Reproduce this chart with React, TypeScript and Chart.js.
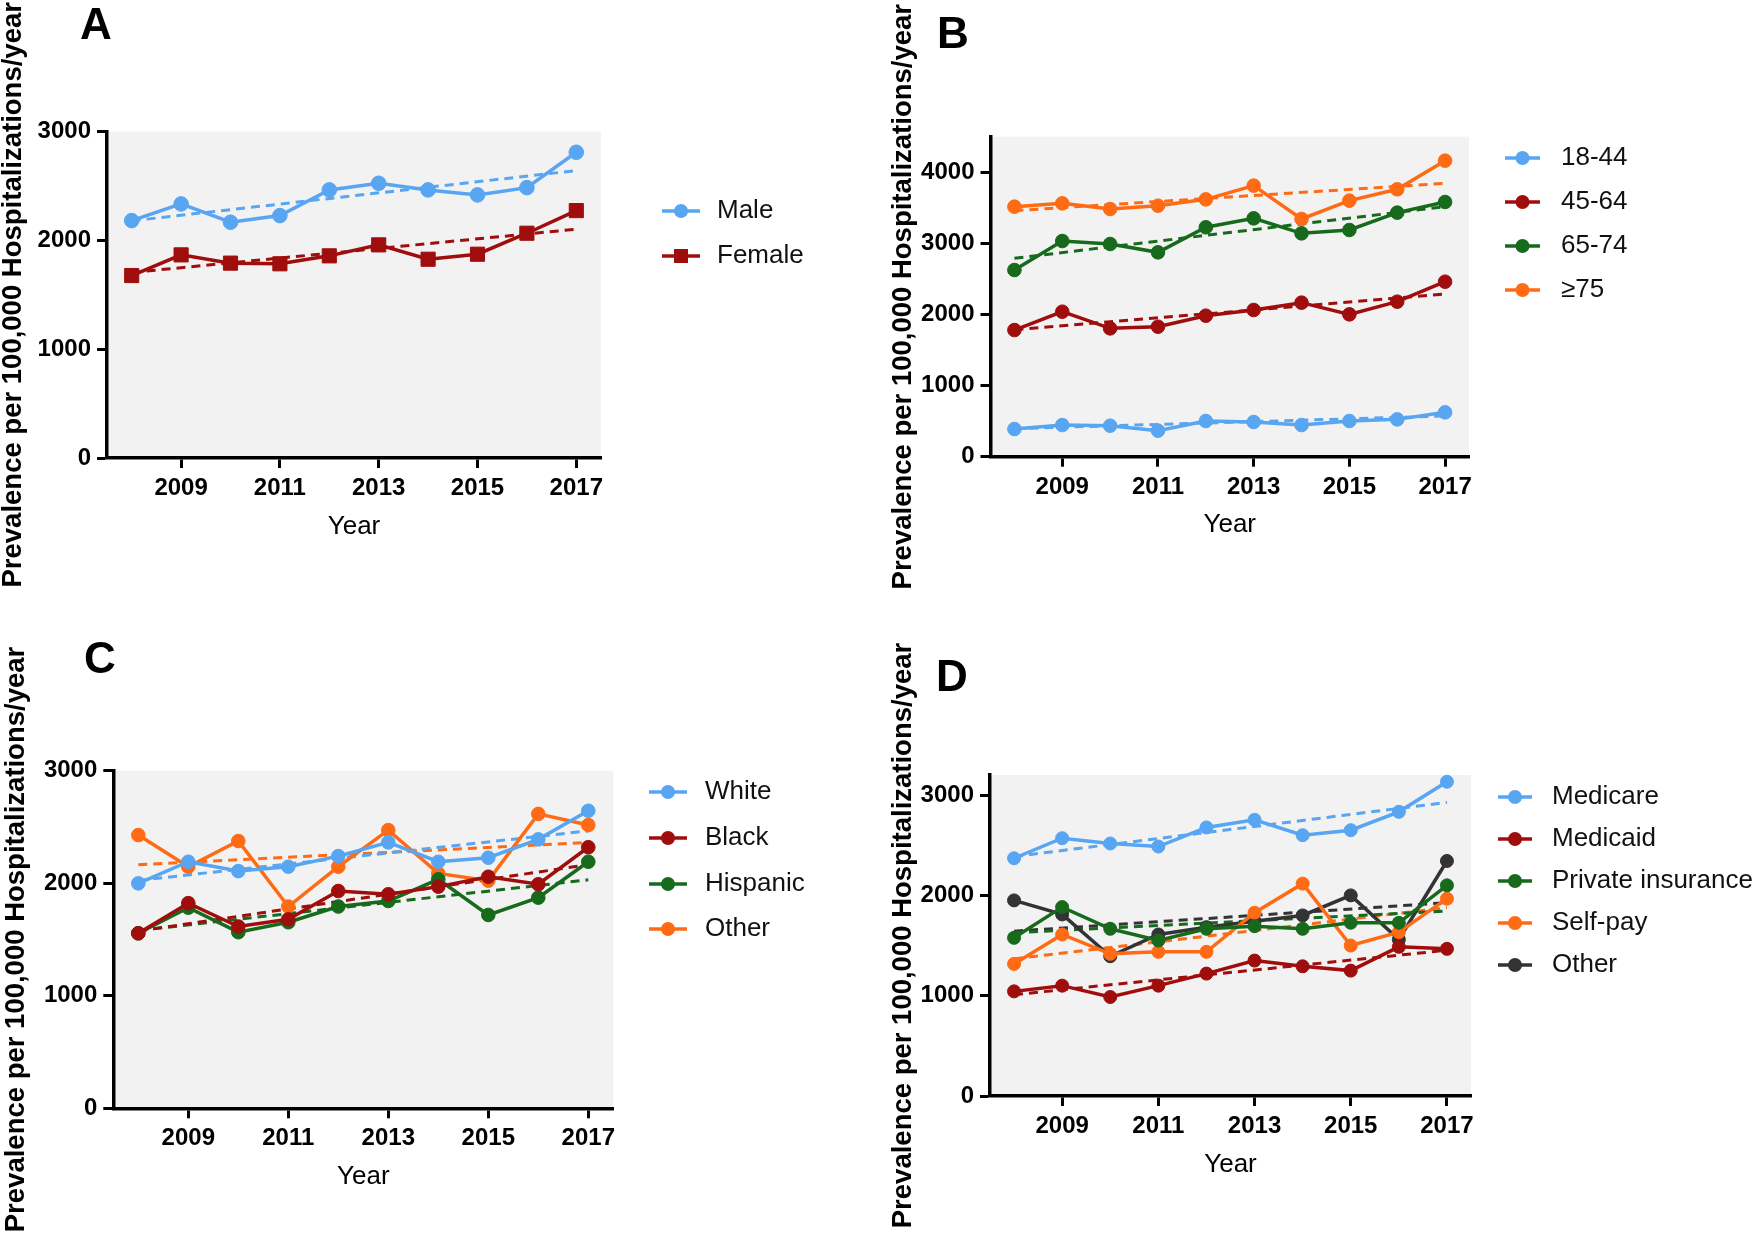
import React, { useEffect, useRef } from 'react';
import { Chart, registerables } from 'chart.js';

Chart.register(...registerables);

const FONT = "'Liberation Sans', Arial, Helvetica, sans-serif";

// ---------- shared axis data ----------
const YEARS = [2008, 2009, 2010, 2011, 2012, 2013, 2014, 2015, 2016, 2017];
const X_TICKS = [2009, 2011, 2013, 2015, 2017];
const X_MIN = 2007.5;
const X_MAX = 2017.5;
const Y_TITLE = 'Prevalence per 100,000 Hospitalizations/year';
const X_TITLE = 'Year';

// ---------- colours ----------
const BLUE = '#58A5F2';
const RED = '#A00D0D';
const GREEN = '#176A1B';
const ORANGE = '#FF6B15';
const GREY = '#333333';

// ---------- Panel A : sex ----------
const A_LETTER = 'A';
const A_Y_MAX = 3000;
const A_Y_TICKS = [0, 1000, 2000, 3000];
const A_LABELS = ['Male', 'Female'];
const A_MALE = [2182, 2335, 2167, 2228, 2464, 2525, 2464, 2418, 2485, 2810];
const A_FEMALE = [1677, 1867, 1791, 1785, 1858, 1959, 1827, 1873, 2066, 2274];
const A_MALE_TREND = [2180, 2642];
const A_FEMALE_TREND = [1705, 2103];

// ---------- Panel B : age ----------
const B_LETTER = 'B';
const B_Y_MAX = 4500;
const B_Y_TICKS = [0, 1000, 2000, 3000, 4000];
const B_LABELS = ['18-44', '45-64', '65-74', '\u226575'];
const B_18_44 = [389, 445, 436, 366, 502, 488, 445, 502, 525, 624];
const B_45_64 = [1781, 2039, 1805, 1828, 1983, 2063, 2166, 2002, 2180, 2461];
const B_65_74 = [2625, 3033, 2991, 2874, 3226, 3352, 3141, 3188, 3432, 3582];
const B_75_UP = [3516, 3563, 3483, 3530, 3619, 3812, 3343, 3601, 3760, 4163];
const B_18_44_TREND = [395, 572];
const B_45_64_TREND = [1785, 2288];
const B_65_74_TREND = [2790, 3516];
const B_75_UP_TREND = [3460, 3844];

// ---------- Panel C : race ----------
const C_LETTER = 'C';
const C_Y_MAX = 3000;
const C_Y_TICKS = [0, 1000, 2000, 3000];
const C_LABELS = ['White', 'Black', 'Hispanic', 'Other'];
const C_WHITE = [1999, 2191, 2108, 2147, 2241, 2363, 2191, 2227, 2390, 2644];
const C_BLACK = [1555, 1823, 1615, 1679, 1931, 1902, 1970, 2058, 1991, 2320];
const C_HISPANIC = [1555, 1783, 1565, 1653, 1793, 1842, 2035, 1718, 1872, 2191];
const C_OTHER = [2428, 2147, 2375, 1793, 2147, 2472, 2087, 2023, 2616, 2517];
const C_WHITE_TREND = [2025, 2465];
const C_BLACK_TREND = [1575, 2165];
const C_HISPANIC_TREND = [1580, 2030];
const C_OTHER_TREND = [2165, 2362];

// ---------- Panel D : payer ----------
const D_LETTER = 'D';
const D_Y_MAX = 3200;
const D_Y_TICKS = [0, 1000, 2000, 3000];
const D_LABELS = ['Medicare', 'Medicaid', 'Private insurance', 'Self-pay', 'Other'];
const D_MEDICARE = [2370, 2570, 2517, 2487, 2677, 2753, 2600, 2650, 2833, 3133];
const D_MEDICAID = [1043, 1100, 987, 1100, 1220, 1350, 1293, 1250, 1487, 1467];
const D_PRIVATE = [1577, 1883, 1667, 1550, 1667, 1693, 1667, 1727, 1727, 2100];
const D_SELFPAY = [1317, 1610, 1417, 1437, 1437, 1827, 2117, 1500, 1633, 1967];
const D_OTHER = [1950, 1810, 1393, 1610, 1683, 1743, 1800, 2000, 1560, 2343];
const D_MEDICARE_TREND = [2387, 2927];
const D_MEDICAID_TREND = [1010, 1453];
const D_PRIVATE_TREND = [1627, 1843];
const D_SELFPAY_TREND = [1367, 1877];
const D_OTHER_TREND = [1643, 1927];

type Series = {
  label: string;
  color: string;
  values: number[];
  trend: number[];
  style: 'circle' | 'rect';
  radius: number;
};

type PanelCfg = {
  letter: string;
  pageLeft: number;
  pageTop: number;
  width: number;
  height: number;
  padLeft: number;
  area: { left: number; right: number; top: number; bottom: number };
  yMax: number;
  yTicks: number[];
  series: Series[];
  letterPos: { x: number; y: number };
  legend: { x0: number; x1: number; tx: number; rows: number[] };
};

const X_AXIS_H = 84;

const mk = (label: string, color: string, values: number[], trend: number[], style: 'circle' | 'rect' = 'circle', radius = 6.8): Series => ({
  label, color, values, trend, style, radius,
});

const PANELS: PanelCfg[] = [
  {
    letter: A_LETTER, pageLeft: 0, pageTop: 0, width: 880, height: 620, padLeft: 0,
    area: { left: 107, right: 601, top: 131.6, bottom: 458 },
    yMax: A_Y_MAX, yTicks: A_Y_TICKS,
    series: [
      mk(A_LABELS[0], BLUE, A_MALE, A_MALE_TREND, 'circle', 7.3),
      mk(A_LABELS[1], RED, A_FEMALE, A_FEMALE_TREND, 'rect', 10),
    ],
    letterPos: { x: 80, y: 39 },
    legend: { x0: 662, x1: 700, tx: 717, rows: [211, 256] },
  },
  {
    letter: B_LETTER, pageLeft: 880, pageTop: 0, width: 880, height: 620, padLeft: 10,
    area: { left: 110.5, right: 589, top: 136.7, bottom: 456.7 },
    yMax: B_Y_MAX, yTicks: B_Y_TICKS,
    series: [
      mk(B_LABELS[0], BLUE, B_18_44, B_18_44_TREND),
      mk(B_LABELS[1], RED, B_45_64, B_45_64_TREND),
      mk(B_LABELS[2], GREEN, B_65_74, B_65_74_TREND),
      mk(B_LABELS[3], ORANGE, B_75_UP, B_75_UP_TREND),
    ],
    letterPos: { x: 57, y: 48 },
    legend: { x0: 625, x1: 660, tx: 681, rows: [158, 202, 246, 290] },
  },
  {
    letter: C_LETTER, pageLeft: 0, pageTop: 620, width: 880, height: 620, padLeft: 3,
    area: { left: 113.3, right: 613.3, top: 150.7, bottom: 488.3 },
    yMax: C_Y_MAX, yTicks: C_Y_TICKS,
    series: [
      mk(C_LABELS[0], BLUE, C_WHITE, C_WHITE_TREND),
      mk(C_LABELS[1], RED, C_BLACK, C_BLACK_TREND),
      mk(C_LABELS[2], GREEN, C_HISPANIC, C_HISPANIC_TREND),
      mk(C_LABELS[3], ORANGE, C_OTHER, C_OTHER_TREND),
    ],
    letterPos: { x: 84, y: 53 },
    legend: { x0: 649, x1: 687, tx: 705, rows: [172, 218, 264, 309] },
  },
  {
    letter: D_LETTER, pageLeft: 880, pageTop: 620, width: 880, height: 620, padLeft: 10,
    area: { left: 110, right: 591, top: 155, bottom: 476 },
    yMax: D_Y_MAX, yTicks: D_Y_TICKS,
    series: [
      mk(D_LABELS[0], BLUE, D_MEDICARE, D_MEDICARE_TREND, 'circle', 6.5),
      mk(D_LABELS[1], RED, D_MEDICAID, D_MEDICAID_TREND, 'circle', 6.5),
      mk(D_LABELS[2], GREEN, D_PRIVATE, D_PRIVATE_TREND, 'circle', 6.5),
      mk(D_LABELS[3], ORANGE, D_SELFPAY, D_SELFPAY_TREND, 'circle', 6.5),
      mk(D_LABELS[4], GREY, D_OTHER, D_OTHER_TREND, 'circle', 6.5),
    ],
    letterPos: { x: 56, y: 71 },
    legend: { x0: 618, x1: 652, tx: 672, rows: [177, 219, 261, 303, 345] },
  },
];

function Panel({ cfg }: { cfg: PanelCfg }) {
  const ref = useRef<HTMLCanvasElement | null>(null);

  useEffect(() => {
    const canvas = ref.current;
    if (!canvas) return;
    const { area } = cfg;

    const dataLines = cfg.series.map((s) => ({
      label: s.label,
      data: YEARS.map((yr, i) => ({ x: yr, y: s.values[i] })),
      borderColor: s.color,
      backgroundColor: s.color,
      borderWidth: 3.5,
      pointStyle: s.style,
      pointRadius: s.radius,
      pointBorderWidth: 1,
      pointBorderColor: s.color,
      pointBackgroundColor: s.color,
      tension: 0,
      order: 0,
      clip: false as any,
    }));
    const trendLines = cfg.series.map((s) => ({
      label: s.label + ' trend',
      data: [
        { x: YEARS[0], y: s.trend[0] },
        { x: YEARS[YEARS.length - 1], y: s.trend[1] },
      ],
      borderColor: s.color,
      borderWidth: 3,
      borderDash: [9, 6],
      pointRadius: 0,
      tension: 0,
      order: 1,
    }));

    const tickFont = { family: FONT, size: 24, weight: 'bold' as const };
    const axisGrid = {
      display: true,
      drawOnChartArea: false,
      drawTicks: true,
      tickLength: 10,
      tickWidth: 3,
      tickColor: '#000',
    };
    const axisBorder = { display: true, color: '#000', width: 3.5 };

    const panelPlugin = {
      id: 'panelDecor' + cfg.letter,
      beforeDraw(chart: any) {
        const ctx = chart.ctx;
        const ca = chart.chartArea;
        ctx.save();
        ctx.fillStyle = '#F2F2F2';
        ctx.fillRect(ca.left, ca.top, ca.right - ca.left, ca.bottom - ca.top);
        ctx.restore();
      },
      afterDraw(chart: any) {
        const ctx = chart.ctx;
        ctx.save();
        // panel letter
        ctx.fillStyle = '#000';
        ctx.font = `bold 44px ${FONT}`;
        ctx.textAlign = 'left';
        ctx.textBaseline = 'alphabetic';
        ctx.fillText(cfg.letter, cfg.letterPos.x, cfg.letterPos.y);
        // legend
        const lg = cfg.legend;
        cfg.series.forEach((s, i) => {
          const y = lg.rows[i];
          ctx.strokeStyle = s.color;
          ctx.lineWidth = 3.5;
          ctx.setLineDash([]);
          ctx.beginPath();
          ctx.moveTo(lg.x0, y);
          ctx.lineTo(lg.x1, y);
          ctx.stroke();
          ctx.fillStyle = s.color;
          const cx = (lg.x0 + lg.x1) / 2;
          if (s.style === 'rect') {
            ctx.fillRect(cx - 7, y - 7, 14, 14);
          } else {
            ctx.beginPath();
            ctx.arc(cx, y, 7, 0, Math.PI * 2);
            ctx.fill();
          }
          ctx.fillStyle = '#111';
          ctx.font = `26px ${FONT}`;
          ctx.textBaseline = 'middle';
          ctx.fillText(s.label, lg.tx, y);
        });
        ctx.restore();
      },
    };

    const chart = new Chart(canvas, {
      type: 'line',
      data: { datasets: [...dataLines, ...trendLines] as any },
      options: {
        responsive: false,
        animation: false,
        events: [],
        layout: {
          padding: {
            left: cfg.padLeft,
            top: area.top,
            right: cfg.width - area.right,
            bottom: cfg.height - area.bottom - X_AXIS_H,
          },
        },
        plugins: {
          legend: { display: false },
          tooltip: { enabled: false },
          title: { display: false },
        },
        scales: {
          x: {
            type: 'linear',
            min: X_MIN,
            max: X_MAX,
            afterBuildTicks: (s: any) => {
              s.ticks = X_TICKS.map((v) => ({ value: v }));
            },
            afterFit: (s: any) => {
              s.height = X_AXIS_H;
            },
            ticks: {
              callback: (v: any) => String(v),
              font: tickFont,
              color: '#000',
              padding: 6,
              maxRotation: 0,
              autoSkip: false,
            },
            grid: axisGrid,
            border: axisBorder,
            title: {
              display: true,
              text: X_TITLE,
              font: { family: FONT, size: 26, weight: 'normal' as const },
              color: '#000',
              padding: 0,
            },
          },
          y: {
            type: 'linear',
            min: 0,
            max: cfg.yMax,
            afterBuildTicks: (s: any) => {
              s.ticks = cfg.yTicks.map((v) => ({ value: v }));
            },
            afterFit: (s: any) => {
              s.width = area.left - cfg.padLeft;
            },
            ticks: {
              callback: (v: any) => String(v),
              font: tickFont,
              color: '#000',
              padding: 6,
              autoSkip: false,
            },
            grid: axisGrid,
            border: axisBorder,
            title: {
              display: true,
              text: Y_TITLE,
              font: { family: FONT, size: 27.5, weight: 'bold' as const, lineHeight: 1 },
              color: '#000',
              padding: 0,
            },
          },
        },
      } as any,
      plugins: [panelPlugin],
    });

    return () => {
      chart.destroy();
    };
  }, [cfg]);

  return (
    <div
      style={{
        position: 'absolute',
        left: cfg.pageLeft,
        top: cfg.pageTop,
        width: cfg.width,
        height: cfg.height,
      }}
    >
      <canvas ref={ref} width={cfg.width} height={cfg.height} style={{ display: 'block' }} />
    </div>
  );
}

export default function App() {
  return (
    <div
      style={{
        position: 'absolute',
        left: 0,
        top: 0,
        width: 1760,
        height: 1240,
        background: '#ffffff',
        overflow: 'hidden',
      }}
    >
      {PANELS.map((p) => (
        <Panel key={p.letter} cfg={p} />
      ))}
    </div>
  );
}
